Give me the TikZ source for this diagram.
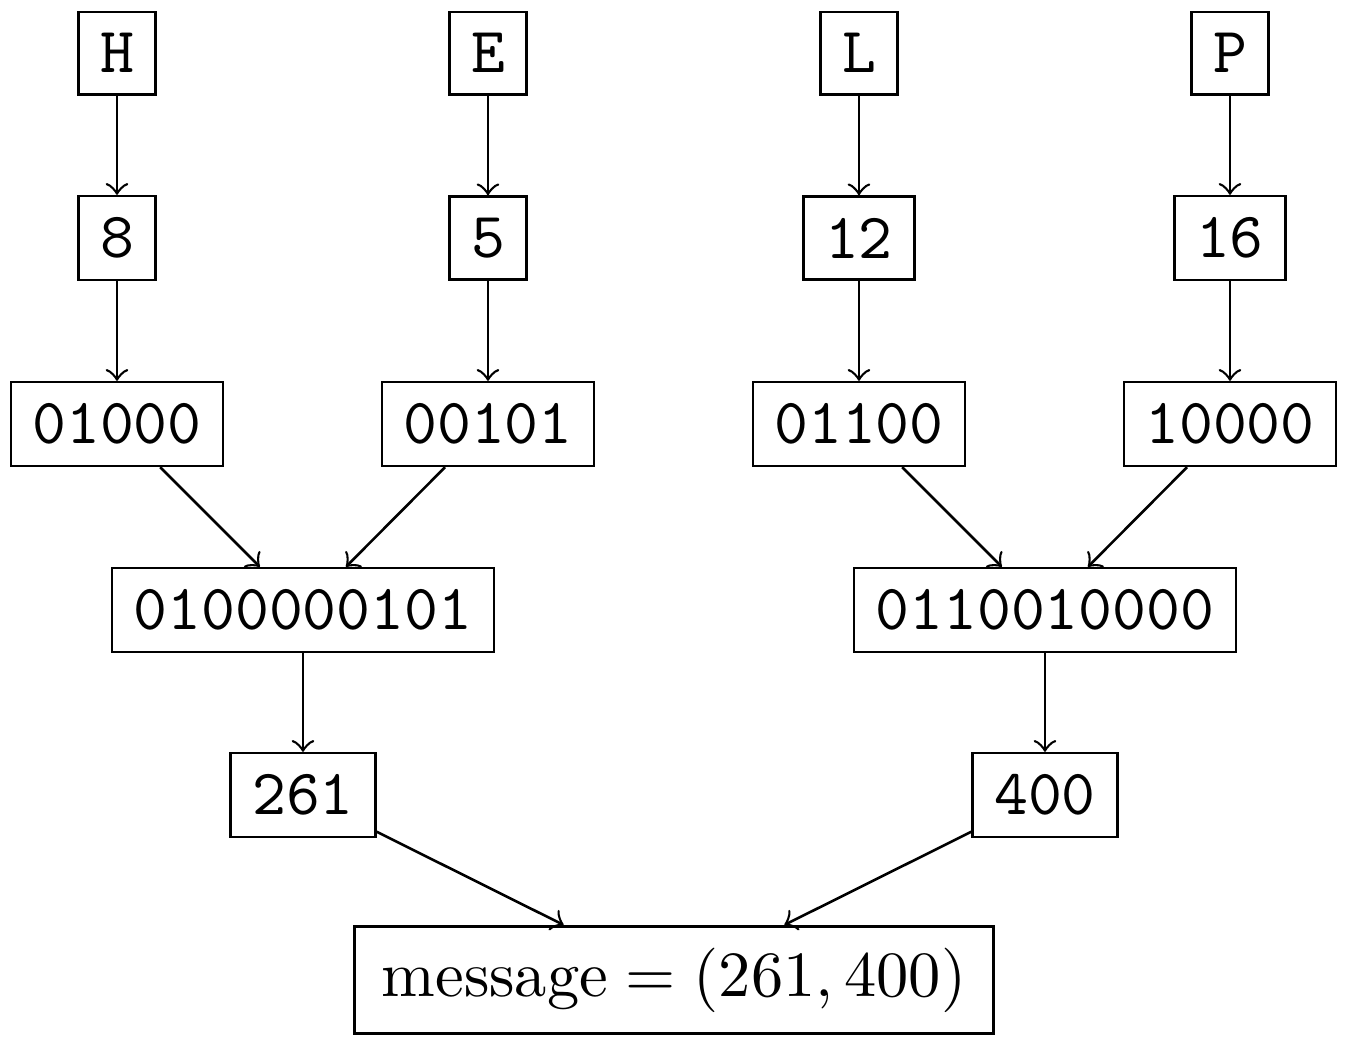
\documentclass[tikz,border=0pt]{standalone}
\usepackage{amsmath}
\begin{document}
\begin{tikzpicture}[x=0.15504pt,y=-0.15504pt,
  box/.style={draw,font=\ttfamily},
  conn/.style={->}]
\useasboundingbox (0,0) rectangle (1345,1036);
\node[box] (H) at (117,53) {H};
\node[box] (E) at (488,53) {E};
\node[box] (L) at (859,53) {L};
\node[box] (P) at (1230,53) {P};
\node[box] (n8) at (117,238) {8};
\node[box] (n5) at (488,238) {5};
\node[box] (n12) at (859,238) {12};
\node[box] (n16) at (1230,238) {16};
\node[box] (bH) at (117,424) {01000};
\node[box] (bE) at (488,424) {00101};
\node[box] (bL) at (859,424) {01100};
\node[box] (bP) at (1230,424) {10000};
\node[box] (cl) at (303,610) {0100000101};
\node[box] (cr) at (1045,610) {0110010000};
\node[box] (dl) at (303,795) {261};
\node[box] (dr) at (1045,795) {400};
\node[draw,inner xsep=4.2pt] (msg) at (674,980) {$\text{message} = (261, 400)$};
\draw[conn] (H) -- (n8);
\draw[conn] (E) -- (n5);
\draw[conn] (L) -- (n12);
\draw[conn] (P) -- (n16);
\draw[conn] (n8) -- (bH);
\draw[conn] (n5) -- (bE);
\draw[conn] (n12) -- (bL);
\draw[conn] (n16) -- (bP);
\draw[conn] (bH) -- (cl);
\draw[conn] (bE) -- (cl);
\draw[conn] (bL) -- (cr);
\draw[conn] (bP) -- (cr);
\draw[conn] (cl) -- (dl);
\draw[conn] (cr) -- (dr);
\draw[conn] (dl) -- (msg);
\draw[conn] (dr) -- (msg);
\end{tikzpicture}
\end{document}
